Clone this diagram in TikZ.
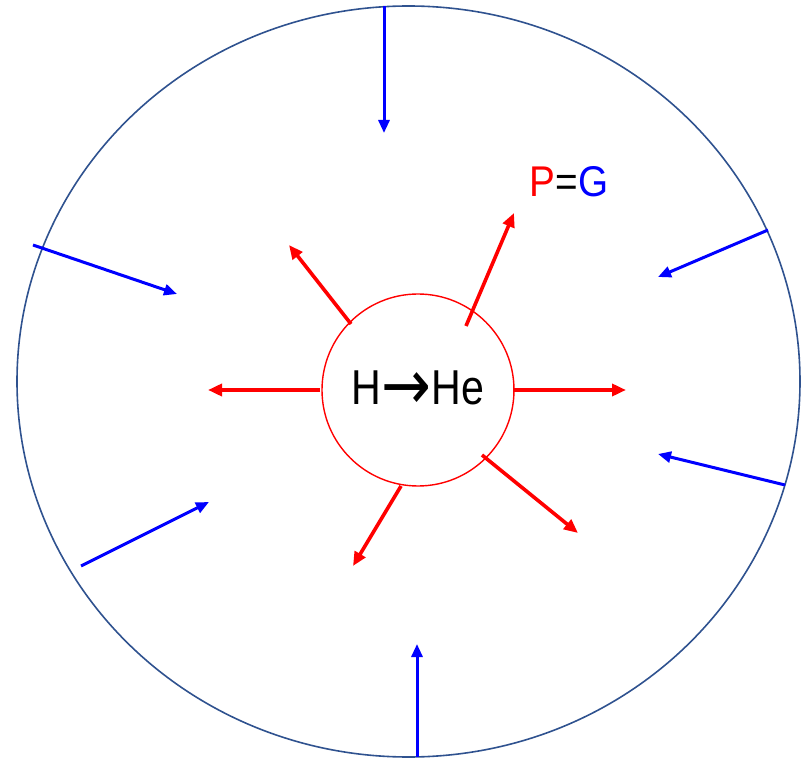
\documentclass[tikz,border=0pt]{standalone}
\usepackage{fontspec}
\setmainfont{Liberation Sans}
\newfontfamily\narrowA[FakeStretch=0.84]{Liberation Sans}
\newfontfamily\narrowB[FakeStretch=0.9]{Liberation Sans}
\newfontfamily\arrowfont[FakeStretch=0.85]{DejaVu Sans}
\usetikzlibrary{arrows.meta,shapes.geometric}
\definecolor{rimblue}{RGB}{47,82,143}
\definecolor{pureblue}{RGB}{0,0,255}
\definecolor{purered}{RGB}{255,0,0}
\tikzset{
  gravarrow/.style={draw=pureblue, line width=3pt, -{Triangle[length=13pt,width=11pt]}},
  pressarrow/.style={draw=purered, line width=3.6pt, -{Triangle[length=14pt,width=12pt]}},
}
\begin{document}
\begin{tikzpicture}[x=1pt,y=-1pt]
\useasboundingbox (0,0) rectangle (801,759);
% outer star
\node[draw=rimblue, line width=1.6pt, ellipse, minimum width=783pt, minimum height=751pt, inner sep=0pt] (star) at (408.5,381.5) {};
% core
\node[draw=purered, line width=1.4pt, circle, minimum size=192pt, inner sep=0pt, font={\narrowA\fontsize{49}{49}\selectfont}] (core) at (418,390) {H\kern0.5pt\raisebox{-5pt}{\arrowfont\fontsize{70}{70}\selectfont →}\kern0.5ptHe};
% label
\node[font={\narrowB\fontsize{43}{43}\selectfont}, inner sep=0pt] (pg) at (569,182) {\textcolor{purered}{P}=\textcolor{pureblue}{G}};
% blue (gravity) arrows
\coordinate (g1s) at (384,6);   \coordinate (g1e) at (384,133);
\coordinate (g2s) at (33,245);  \coordinate (g2e) at (177,294);
\coordinate (g3s) at (768,230); \coordinate (g3e) at (658,277);
\coordinate (g4s) at (785,485); \coordinate (g4e) at (658,454);
\coordinate (g5s) at (81,566);  \coordinate (g5e) at (209,502);
\coordinate (g6s) at (417,757); \coordinate (g6e) at (417,644);
\foreach \i in {1,...,6}{\draw[gravarrow] (g\i s) -- (g\i e);}
% red (pressure) arrows
\coordinate (p1s) at (351,324); \coordinate (p1e) at (289,245);
\coordinate (p2s) at (466,326); \coordinate (p2e) at (514,213);
\coordinate (p3s) at (320,390); \coordinate (p3e) at (208,390);
\coordinate (p4s) at (513,390); \coordinate (p4e) at (626,390);
\coordinate (p5s) at (482,455); \coordinate (p5e) at (578,533);
\coordinate (p6s) at (401,486); \coordinate (p6e) at (353,566);
\foreach \i in {1,...,6}{\draw[pressarrow] (p\i s) -- (p\i e);}
\end{tikzpicture}
\end{document}
